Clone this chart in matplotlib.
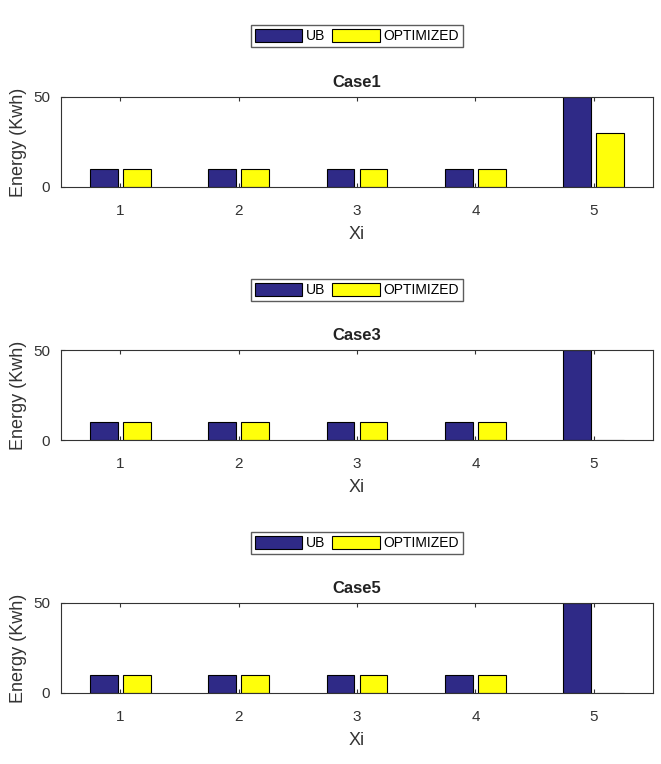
import numpy as np
import matplotlib
matplotlib.use('Agg')
import matplotlib.pyplot as plt

plt.rcParams['font.family'] = ['Liberation Sans', 'DejaVu Sans']

xi = [1, 2, 3, 4, 5]
case_names = ['Case1', 'Case3', 'Case5']
ub_values = [
    [10, 10, 10, 10, 50],
    [10, 10, 10, 10, 50],
    [10, 10, 10, 10, 50],
]
optimized_values = [
    [10, 10, 10, 10, 30],
    [10, 10, 10, 10, 0],
    [10, 10, 10, 10, 0],
]

ub_color = '#2f2a87'
opt_color = '#ffff0a'

fig = plt.figure(figsize=(6.61, 7.64), dpi=100)

left, width, height = 61 / 661, 592 / 661, 90 / 764
bottoms = [1 - 187 / 764, 1 - 440 / 764, 1 - 693 / 764]
legend_y = [36, 290, 543]

x = np.array(xi)
for i, name in enumerate(case_names):
    ax = fig.add_axes([left, bottoms[i], width, height])
    b1 = ax.bar(x - 0.14, ub_values[i], width=0.235, color=ub_color,
                edgecolor='black', linewidth=0.8, label='UB')
    b2 = ax.bar(x + 0.14, optimized_values[i], width=0.235, color=opt_color,
                edgecolor='black', linewidth=0.8, label='OPTIMIZED')
    ax.set_xlim(0.5, 5.5)
    ax.set_ylim(0, 50)
    ax.set_xticks(xi)
    ax.set_yticks([0, 50])
    ax.tick_params(direction='in', top=True, right=False, length=3,
                   labelsize=11, colors='#333333', pad=8)
    ax.tick_params(axis='x', pad=12)
    for s in ax.spines.values():
        s.set_color('#333333')
        s.set_linewidth(0.8)
    ax.set_title(name, fontsize=12, fontweight='bold', pad=7, color='#222222')
    ax.set_xlabel('Xi', fontsize=13, labelpad=6, color='#333333')
    ax.set_ylabel('Energy (Kwh)', fontsize=13, labelpad=4, color='#333333')
    fig.legend(handles=[b1, b2], loc='center',
               bbox_to_anchor=(357 / 661, 1 - legend_y[i] / 764),
               ncol=2, fontsize=10, frameon=True, fancybox=False,
               edgecolor='#333333', handlelength=3.4, handleheight=1.1,
               columnspacing=0.5, handletextpad=0.3, borderpad=0.3,
               borderaxespad=0)

fig.savefig('out.png', dpi=100)
